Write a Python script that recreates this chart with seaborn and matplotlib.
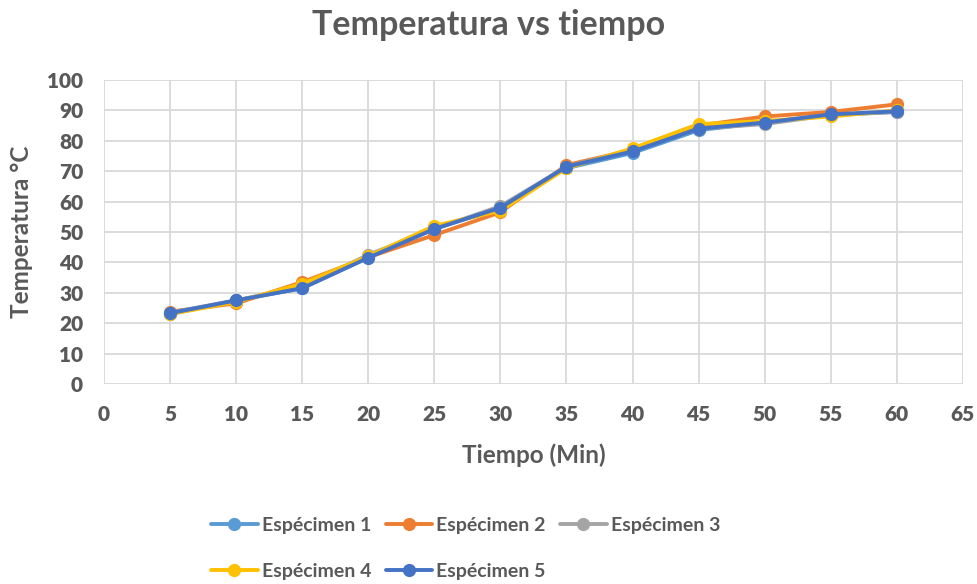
import matplotlib
matplotlib.use("Agg")
import matplotlib.pyplot as plt
import seaborn as sns
import pandas as pd

tiempo = [5, 10, 15, 20, 25, 30, 35, 40, 45, 50, 55, 60]
especimen_1 = [23.0, 27.5, 31.5, 41.7, 51.0, 58.0, 71.0, 76.0, 83.5, 86.0, 88.5, 89.5]
especimen_2 = [23.8, 26.5, 33.5, 41.7, 49.0, 56.5, 72.0, 77.0, 85.0, 88.0, 89.5, 92.0]
especimen_3 = [23.5, 27.5, 32.0, 42.5, 51.0, 58.5, 71.5, 77.0, 84.0, 85.5, 88.5, 89.5]
especimen_4 = [23.0, 27.0, 33.0, 42.0, 52.0, 57.0, 71.0, 77.5, 85.5, 86.5, 88.0, 90.0]
especimen_5 = [23.3, 27.5, 31.5, 41.5, 51.0, 58.0, 71.5, 76.5, 84.0, 86.0, 88.7, 89.7]
series_names = ["Espécimen 1", "Espécimen 2", "Espécimen 3", "Espécimen 4", "Espécimen 5"]
colors = ["#5B9BD5", "#ED7D31", "#A5A5A5", "#FFC000", "#4472C4"]
x_ticks = list(range(0, 66, 5))
y_ticks = list(range(0, 101, 10))

rows = []
for name, vals in zip(series_names, [especimen_1, especimen_2, especimen_3, especimen_4, especimen_5]):
    for t, v in zip(tiempo, vals):
        rows.append({"Tiempo": t, "Temp": v, "Serie": name})
df = pd.DataFrame(rows)

sns.set_style("white")
plt.rcParams["font.family"] = ["Lato", "DejaVu Sans"]
plt.rcParams["font.weight"] = "bold"
txt = "#595959"

fig = plt.figure(figsize=(9.77, 5.84), dpi=100)
ax = fig.add_axes([0.1064, 0.3425, 0.8792, 0.5205])

sns.lineplot(data=df, x="Tiempo", y="Temp", hue="Serie", palette=colors,
             hue_order=series_names, marker="o", markersize=9.5, linewidth=2.8,
             markeredgewidth=0, ax=ax, legend=True)

ax.set_xlim(0, 65)
ax.set_ylim(0, 100)
ax.tick_params(axis="both", length=0, labelsize=15, labelcolor=txt, pad=15)
ax.set_xticks(x_ticks, [str(v) for v in x_ticks], fontweight="heavy")
ax.set_yticks(y_ticks, [str(v) for v in y_ticks], fontweight="heavy")
ax.grid(True, color="#D9D9D9", linewidth=1.3)
ax.set_axisbelow(True)
for s in ax.spines.values():
    s.set_visible(False)

ax.set_xlabel("Tiempo (Min)", fontsize=17.5, fontweight="bold", color=txt)
ax.set_ylabel("Temperatura °C", fontsize=17.5, fontweight="bold", color=txt)
ax.xaxis.label.set_va("center")
ax.yaxis.label.set_va("center")
ax.xaxis.set_label_coords(0.5, -(455 - 384) / 304)
ax.yaxis.set_label_coords(-(104 - 22) / 859, 0.5)

fig.text(0.5, 1 - 25 / 584, "Temperatura vs tiempo", fontsize=24.5, fontweight="bold",
         color=txt, ha="center", va="center")

handles, labels = ax.get_legend_handles_labels()
order = [0, 3, 1, 4, 2]
leg = ax.legend([handles[i] for i in order], [labels[i] for i in order],
                loc="upper left", bbox_to_anchor=(211 / 977, 1 - 517 / 584),
                bbox_transform=fig.transFigure, ncol=3, frameon=False,
                prop={"size": 14, "weight": "bold"}, handlelength=2.4, handletextpad=0.2,
                columnspacing=0.75, labelspacing=1.5, borderpad=0, borderaxespad=0)
for t in leg.get_texts():
    t.set_color(txt)

fig.savefig("out.png", dpi=100)
